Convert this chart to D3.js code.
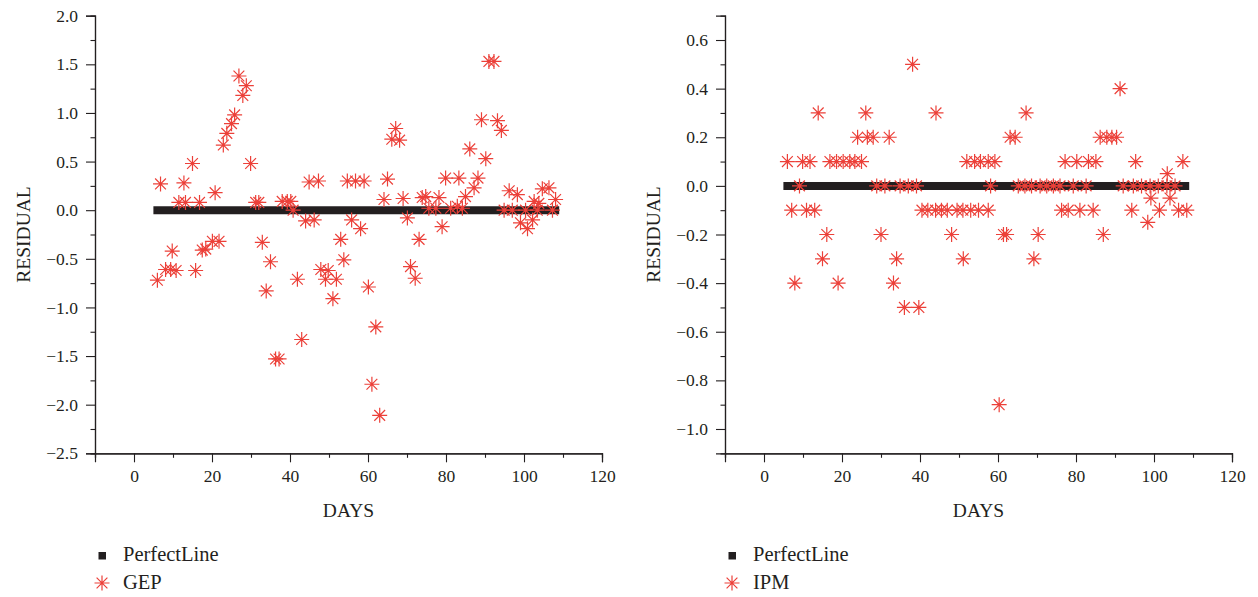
<!DOCTYPE html>
<html>
<head>
<meta charset="utf-8">
<script src="https://cdn.jsdelivr.net/npm/d3@7"></script>
<style>
  body { margin: 0; background: #fff; }
  text { font-family: "Liberation Serif", "Times New Roman", serif; fill: #231f20; }
</style>
</head>
<body>
<svg id="chart" width="1258" height="597"></svg>
<script>
// residuals: [day, residual]
var gepPoints = [
  [6.0,-0.72],[6.8,0.27],[8.1,-0.61],[9.4,-0.61],[9.8,-0.42],[10.8,-0.62],[11.5,0.08],
  [12.8,0.28],[13.2,0.08],[15.0,0.48],[15.8,-0.62],[16.8,0.08],[17.5,-0.41],[18.4,-0.40],
  [20.1,-0.32],[20.8,0.18],[21.8,-0.32],[22.9,0.67],[23.8,0.79],[25.0,0.89],[25.8,0.98],
  [26.9,1.38],[27.9,1.18],[28.8,1.28],[29.9,0.48],[31.2,0.08],[32.0,0.08],[32.9,-0.33],
  [33.9,-0.83],[35.0,-0.53],[36.3,-1.53],[37.2,-1.53],[38.0,0.09],[39.3,0.09],[40.2,0.09],
  [40.8,0.0],[41.9,-0.71],[43.0,-1.33],[44.0,-0.11],[44.9,0.29],[46.2,-0.10],[47.3,0.30],
  [47.9,-0.61],[49.1,-0.71],[49.8,-0.62],[51.0,-0.91],[51.9,-0.71],[53.0,-0.30],[53.8,-0.51],
  [54.7,0.30],[55.8,-0.10],[56.8,0.30],[58.1,-0.19],[59.0,0.30],[60.1,-0.79],[61.0,-1.79],
  [62.0,-1.20],[63.0,-2.11],[64.1,0.11],[65.0,0.32],[66.1,0.73],[67.1,0.84],[68.1,0.72],
  [69.0,0.12],[70.1,-0.08],[70.9,-0.58],[72.1,-0.70],[73.1,-0.30],[73.9,0.13],[74.8,0.14],
  [75.6,0.02],[77.4,0.02],[78.2,0.13],[79.0,-0.17],[79.9,0.33],[81.2,0.02],[82.9,0.04],
  [83.3,0.33],[84.2,0.02],[85.0,0.14],[86.1,0.63],[87.2,0.23],[88.2,0.33],[89.1,0.93],
  [90.2,0.53],[91.0,1.53],[92.3,1.53],[93.2,0.92],[94.2,0.82],[94.9,0.0],[96.2,0.20],
  [97.0,0.0],[98.3,0.16],[99.1,-0.13],[100.4,0.0],[100.9,-0.19],[102.2,-0.10],[102.6,0.09],
  [103.4,0.0],[103.8,0.07],[104.7,0.22],[106.4,0.23],[107.3,0.0],[108.1,0.11]
];

var ipmPoints = [
  [38.1,0.5],[91.3,0.4],
  [13.9,0.3],[26.1,0.3],[44.1,0.3],[67.2,0.3],
  [24,0.2],[26.5,0.2],[28,0.2],[32.1,0.2],[63.1,0.2],[64.4,0.2],[86.2,0.2],[87.9,0.2],[89.2,0.2],[90.4,0.2],
  [6,0.1],[9.9,0.1],[11.8,0.1],[16.9,0.1],[18.6,0.1],[20.3,0.1],[22,0.1],[23.3,0.1],[25,0.1],
  [52,0.1],[54,0.1],[55.5,0.1],[57.5,0.1],[59.2,0.1],[77.2,0.1],[80.2,0.1],[83.2,0.1],[85.1,0.1],
  [95.3,0.1],[107.4,0.1],
  [103.4,0.05],
  [9.1,0],[28.9,0],[31,0],[34.9,0],[37,0],[39.1,0],[58.1,0],[65.2,0],[66.9,0],[68.6,0],[70.8,0],
  [72.5,0],[74.2,0],[75.9,0],[79.3,0],[82.6,0],[92.1,0],[94.7,0],[96.8,0],[99,0],[101.1,0],
  [103.3,0],[105.4,0],
  [99.2,-0.05],[104.1,-0.05],
  [7.1,-0.1],[10.9,-0.1],[13,-0.1],[40.5,-0.1],[42,-0.1],[44,-0.1],[45.5,-0.1],[47,-0.1],
  [49.5,-0.1],[51,-0.1],[53,-0.1],[55,-0.1],[57.5,-0.1],[76.3,-0.1],[78,-0.1],[81,-0.1],
  [84.4,-0.1],[94.3,-0.1],[101.4,-0.1],[106.3,-0.1],[108.4,-0.1],
  [98.4,-0.15],
  [16.1,-0.2],[30,-0.2],[48.1,-0.2],[61.4,-0.2],[62.2,-0.2],[70.3,-0.2],[87,-0.2],
  [15,-0.3],[34,-0.3],[51.1,-0.3],[69.2,-0.3],
  [7.9,-0.4],[19,-0.4],[33.2,-0.4],
  [36,-0.5],[39.7,-0.5],
  [60.3,-0.9]
];

var perfectLine = [[6, 0], [108, 0]];

var dayTicks = [0, 20, 40, 60, 80, 100, 120];
var dayMinorTicks = [-10, 10, 30, 50, 70, 90, 110];
var gepTicks = [-2.5, -2.0, -1.5, -1.0, -0.5, 0.0, 0.5, 1.0, 1.5, 2.0];
var gepMinorTicks = [-2.25, -1.75, -1.25, -0.75, -0.25, 0.25, 0.75, 1.25, 1.75];
var ipmTicks = [-1.0, -0.8, -0.6, -0.4, -0.2, 0.0, 0.2, 0.4, 0.6];
var ipmMinorTicks = [-0.9, -0.7, -0.5, -0.3, -0.1, 0.1, 0.3, 0.5];

var svg = d3.select('#chart');
var red = '#ec4039';
var ink = '#231f20';
var serif = '"Liberation Serif", "Times New Roman", serif';

function asterisk(r) {
  var a = r * 0.72;
  return 'M' + (-r) + ',0L' + r + ',0M0,' + (-r) + 'L0,' + r +
    'M' + (-a) + ',' + (-a) + 'L' + a + ',' + a +
    'M' + (-a) + ',' + a + 'L' + a + ',' + (-a);
}

function drawPanel(opt) {
  var g = svg.append('g');
  var x = d3.scaleLinear().domain([-10, 120]).range([opt.left, opt.left + 507]);
  var y = d3.scaleLinear().domain(opt.yDomain).range([453.3, 15.7]);

  // minor ticks first, then the labelled ones
  g.append('g').attr('transform', 'translate(0,453.3)')
    .call(d3.axisBottom(x).tickValues(dayMinorTicks).tickSize(4.5).tickFormat(''));
  g.append('g').attr('class', 'lab').attr('transform', 'translate(0,453.3)')
    .call(d3.axisBottom(x).tickValues(dayTicks).tickSize(9).tickPadding(7).tickFormat(d3.format('d')));
  g.append('g').attr('transform', 'translate(' + opt.left + ',0)')
    .call(d3.axisLeft(y).tickValues(opt.minorTicks).tickSize(4.5).tickFormat(''));
  g.append('g').attr('class', 'lab').attr('transform', 'translate(' + opt.left + ',0)')
    .call(d3.axisLeft(y).tickValues(opt.ticks).tickSize(9).tickPadding(8).tickFormat(d3.format('.1f')));

  g.selectAll('.lab').attr('font-family', serif).attr('font-size', 17.5);
  g.selectAll('.domain').attr('stroke', ink).attr('stroke-width', 1.2);
  g.selectAll('.tick line').attr('stroke', ink).attr('stroke-width', 1.1);
  g.selectAll('.tick text').style('font-family', serif).style('font-size', '17.5px').attr('fill', ink);

  g.append('text')
    .attr('transform', 'translate(' + (opt.left - 72) + ',' + y(opt.yMid) + ') rotate(-90)')
    .attr('text-anchor', 'middle').attr('dy', '0.35em')
    .style('font-size', '19.5px').text('RESIDUAL');
  g.append('text')
    .attr('x', x(55)).attr('y', 517)
    .attr('text-anchor', 'middle')
    .style('font-size', '19.5px').text('DAYS');

  g.append('path')
    .datum(perfectLine)
    .attr('d', d3.line().x(function (d) { return x(d[0]); }).y(function (d) { return y(d[1]); }))
    .attr('stroke', ink).attr('stroke-width', 8).attr('stroke-linecap', 'square').attr('fill', 'none');

  g.selectAll('.pt')
    .data(opt.points)
    .enter().append('path')
      .attr('class', 'pt')
      .attr('transform', function (d) { return 'translate(' + x(d[0]) + ',' + y(d[1]) + ')'; })
      .attr('d', asterisk(7.5))
      .attr('stroke', red).attr('stroke-width', 1.2).attr('fill', 'none');

  // legend
  var lx = opt.left + 7;
  g.append('rect').attr('x', lx - 3.5).attr('y', 552).attr('width', 7.5).attr('height', 7.5).attr('fill', ink);
  g.append('text').attr('x', lx + 21).attr('y', 561).style('font-size', '20.5px').text('PerfectLine');
  g.append('path').attr('transform', 'translate(' + lx + ',583)')
    .attr('d', asterisk(7.5)).attr('stroke', red).attr('stroke-width', 1.2).attr('fill', 'none');
  g.append('text').attr('x', lx + 21).attr('y', 589).style('font-size', '20.5px').text(opt.name);
}

drawPanel({ left: 95, yDomain: [-2.5, 2.0], ticks: gepTicks, minorTicks: gepMinorTicks,
  yMid: -0.25, points: gepPoints, name: 'GEP' });
drawPanel({ left: 725, yDomain: [-1.1, 0.7], ticks: ipmTicks, minorTicks: ipmMinorTicks,
  yMid: -0.2, points: ipmPoints, name: 'IPM' });
</script>
</body>
</html>
